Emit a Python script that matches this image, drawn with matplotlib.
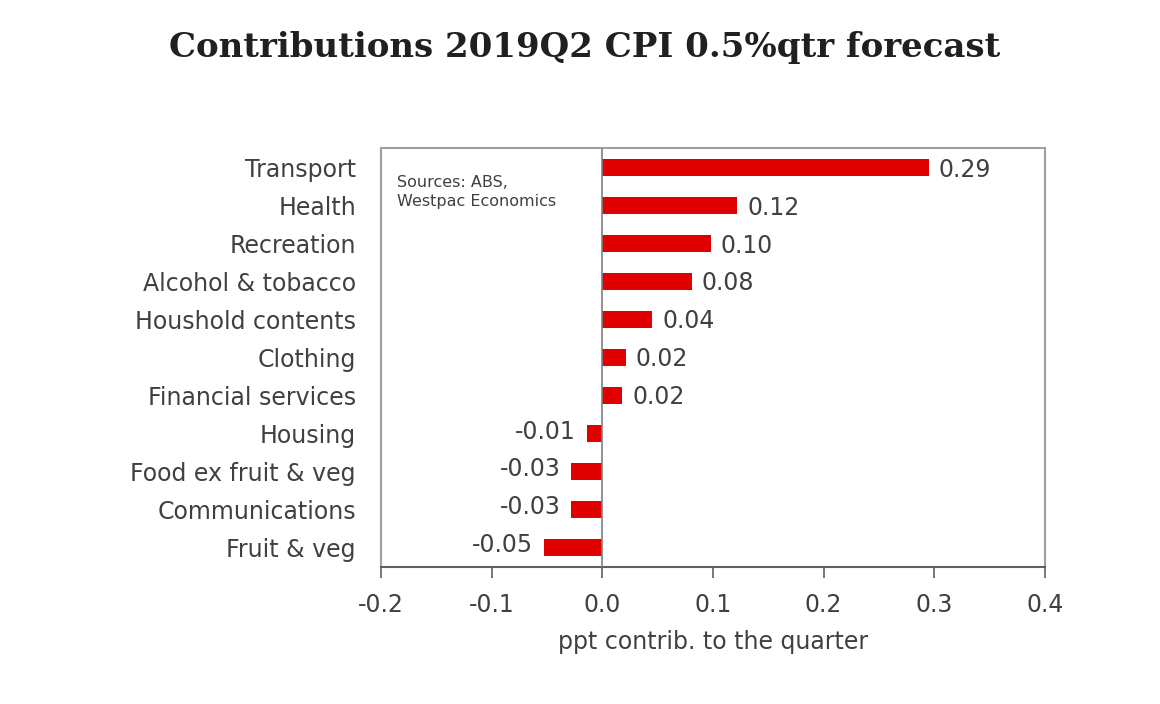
import matplotlib
matplotlib.use("Agg")
import matplotlib.pyplot as plt

# categories, top to bottom
categories = ["Transport", "Health", "Recreation", "Alcohol & tobacco",
              "Houshold contents", "Clothing", "Financial services",
              "Housing", "Food ex fruit & veg", "Communications", "Fruit & veg"]
values = [0.295, 0.122, 0.098, 0.081, 0.045, 0.021, 0.018,
          -0.014, -0.028, -0.028, -0.053]
labels = ["0.29", "0.12", "0.10", "0.08", "0.04", "0.02", "0.02",
          "-0.01", "-0.03", "-0.03", "-0.05"]
xticks = [-0.2, -0.1, 0.0, 0.1, 0.2, 0.3, 0.4]

txt = "#404040"
plt.rcParams['font.family'] = ['DejaVu Sans']

fig = plt.figure(figsize=(11.6, 7.04), dpi=100)
ax = fig.add_axes([0.3284, 0.1946, 0.5725, 0.5952])

pos = list(range(len(categories)))
ax.barh(pos, values, height=0.46, color="#e00000", zorder=2)
ax.axvline(0, color="#808080", lw=1.2, zorder=3)

for p, v, lab in zip(pos, values, labels):
    if v >= 0:
        ax.text(v + 0.009, p + 0.05, lab, ha="left", va="center",
                fontsize=17, color=txt)
    else:
        ax.text(v - 0.010, p - 0.05, lab, ha="right", va="center",
                fontsize=17, color=txt)

ax.set_ylim(len(categories) - 0.48, -0.52)
ax.set_xlim(-0.2, 0.4)
ax.set_yticks(pos)
ax.set_yticklabels(categories, fontsize=17, color=txt)
ax.tick_params(axis="y", length=0, pad=18)
ax.set_xticks(xticks)
ax.set_xticklabels(["%.1f" % t for t in xticks], fontsize=17, color=txt)
ax.tick_params(axis="x", length=8, width=1.2, color="#606060", pad=11)
ax.set_xlabel("ppt contrib. to the quarter", fontsize=17, color=txt, labelpad=9)

for side in ["top", "right", "left"]:
    ax.spines[side].set_color("#a0a0a0")
    ax.spines[side].set_linewidth(1.5)
ax.spines["bottom"].set_color("#606060")
ax.spines["bottom"].set_linewidth(1.5)

ax.text(0.024, 0.935, "Sources: ABS,\nWestpac Economics", transform=ax.transAxes,
        fontsize=11.5, color=txt, va="top", ha="left", linespacing=1.35)

fig.text(0.504, 0.933, "Contributions 2019Q2 CPI 0.5%qtr forecast",
         ha="center", va="center", fontsize=24.5, fontweight="bold",
         family=["DejaVu Serif"], color="#202020")

fig.savefig("out.png", dpi=100)
